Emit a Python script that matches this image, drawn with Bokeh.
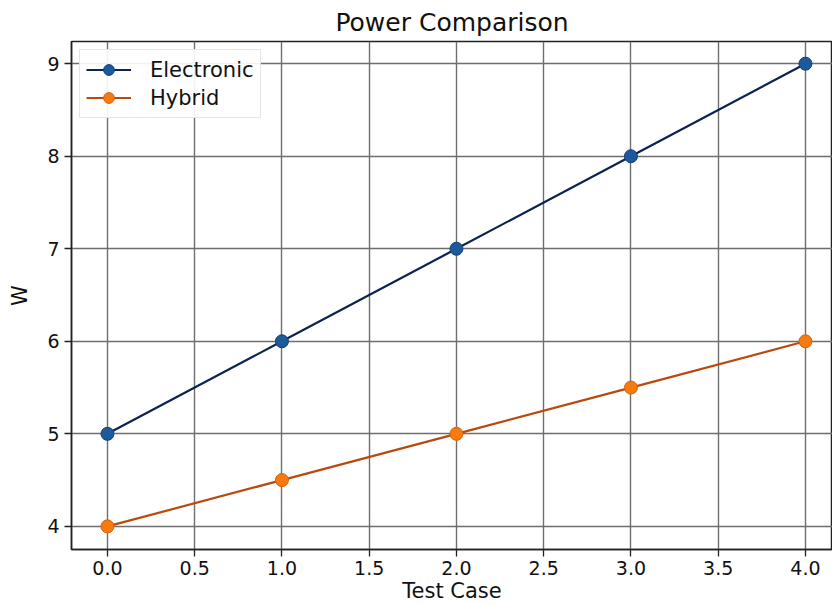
from bokeh.plotting import figure
from bokeh.models import ColumnDataSource, FixedTicker, Legend, LegendItem, Range1d, CustomJSTickFormatter
from bokeh.embed import file_html
from bokeh.resources import INLINE

test_case = [0, 1, 2, 3, 4]
electronic = [5, 6, 7, 8, 9]
hybrid = [4, 4.5, 5, 5.5, 6]
x_ticks = [0.0, 0.5, 1.0, 1.5, 2.0, 2.5, 3.0, 3.5, 4.0]
y_ticks = [4, 5, 6, 7, 8, 9]

FONT = "DejaVu Sans"

p = figure(width=832, height=605, output_backend="svg", toolbar_location=None,
           x_range=Range1d(-0.206, 4.155), y_range=Range1d(3.75, 9.24),
           title="Power Comparison", min_border_left=71, min_border_right=0,
           min_border_top=6, min_border_bottom=56)

p.title.align = "center"
p.title.text_font = FONT
p.title.text_font_size = "25px"
p.title.text_font_style = "normal"
p.title.text_color = "#111111"
p.title.offset = 0

src = ColumnDataSource(dict(x=test_case, e=electronic, h=hybrid))
l1 = p.line("x", "e", source=src, line_color="#0c2350", line_width=2.2)
c1 = p.scatter("x", "e", source=src, size=13, fill_color="#1c5a9c", line_color="#123f75", line_width=1)
l2 = p.line("x", "h", source=src, line_color="#b84a0e", line_width=2.2)
c2 = p.scatter("x", "h", source=src, size=13, fill_color="#f57a10", line_color="#d8600a", line_width=1)

p.xaxis.ticker = FixedTicker(ticks=x_ticks)
p.yaxis.ticker = FixedTicker(ticks=y_ticks)
p.xaxis.formatter = CustomJSTickFormatter(code="return tick.toFixed(1);")
p.xaxis.axis_label = "Test Case"
p.yaxis.axis_label = "W"
for ax in (p.xaxis[0], p.yaxis[0]):
    ax.axis_label_text_font = FONT
    ax.axis_label_text_font_size = "21px"
    ax.axis_label_text_font_style = "normal"
    ax.axis_label_text_color = "#111111"
    ax.major_label_text_font = FONT
    ax.major_label_text_font_size = "19px"
    ax.major_label_text_color = "#111111"
    ax.major_tick_out = 7
    ax.major_tick_in = 0
    ax.minor_tick_out = 0
    ax.minor_tick_in = 0
    ax.axis_line_color = "#222222"
    ax.axis_line_width = 1.5
    ax.major_tick_line_color = "#222222"
    ax.major_tick_line_width = 1.3
    ax.major_label_standoff = 5
p.xaxis.major_label_standoff = 4
p.xaxis.axis_label_standoff = 1
p.yaxis.axis_label_standoff = 12

p.grid.grid_line_color = "#6e6e6e"
p.grid.grid_line_width = 1.4
p.outline_line_color = "#222222"
p.outline_line_width = 1.5

legend = Legend(items=[LegendItem(label="Electronic", renderers=[l1, c1]),
                       LegendItem(label="Hybrid", renderers=[l2, c2])],
                location="top_left")
legend.label_text_font = FONT
legend.label_text_font_size = "21px"
legend.label_text_color = "#111111"
legend.border_line_color = "#cccccc"
legend.border_line_width = 1
legend.background_fill_alpha = 0.9
legend.glyph_width = 45
legend.label_standoff = 19
legend.spacing = 1
legend.padding = 6
legend.margin = 8
legend.label_height = 27
legend.glyph_height = 27
p.add_layout(legend)

open("out.html", "w").write(file_html(p, INLINE))
